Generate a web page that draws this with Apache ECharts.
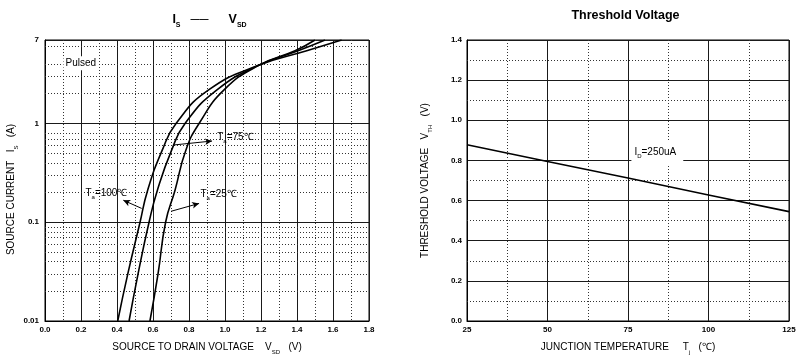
<!DOCTYPE html>
<html>
<head>
<meta charset="utf-8">
<script src="https://cdn.jsdelivr.net/npm/echarts@6/dist/echarts.min.js"></script>
<style>
html,body{margin:0;padding:0;background:#fff;}
#c{width:799px;height:363px;}
</style>
</head>
<body>
<div id="c"></div>
<script>
// ---- Left chart data: Is vs Vsd ----
const isLevels = [0.01, 0.03, 0.1, 0.21, 0.54, 1, 2.2, 3.9, 5.45, 7];
const vsd25  = [0.583, 0.628, 0.670, 0.722, 0.783, 0.856, 0.996, 1.19, 1.389, 1.500];
const vsd75  = [0.467, 0.517, 0.578, 0.624, 0.704, 0.778, 0.957, 1.19, 1.406, 1.556];
const vsd100 = [0.404, 0.460, 0.528, 0.570, 0.652, 0.728, 0.911, 1.19, 1.454, 1.648];
const vsdTicks = [0, 1.8];
const isMinorLines = [0.02,0.03,0.04,0.05,0.06,0.07,0.08,0.09,0.2,0.3,0.4,0.5,0.6,0.7,0.8,2,3,4,6];

// ---- Right chart data: Vth vs Tj ----
const tj = [25, 50, 75, 100, 125];
const vth = [0.878, 0.795, 0.712, 0.628, 0.545];
const vthMinorLines = [0.1, 0.3, 0.5, 0.7, 1.1, 1.3];

const FONT = "'Liberation Sans', Arial, sans-serif";
const chart = echarts.init(document.getElementById('c'), null, {renderer:'canvas'});

const solidSplit = {show:true, lineStyle:{color:'#1a1a1a', width:1, type:'solid'}};
const dotted = {color:'#333', width:1, type:[1,2]};
const labelStyle = {color:'#000', fontSize:8, fontWeight:'bold', fontFamily:FONT};
const subRich = {
  m:{fontSize:10, fontFamily:FONT, color:'#000', lineHeight:16, verticalAlign:'middle'},
  s:{fontSize:6, fontFamily:FONT, color:'#000', lineHeight:16, verticalAlign:'bottom'}
};
const annRich = {
  t:{fontSize:10, fontFamily:FONT, color:'#000', lineHeight:14, verticalAlign:'middle'},
  s:{fontSize:6, fontFamily:FONT, color:'#000', lineHeight:14, verticalAlign:'bottom'}
};

function pairs(xs, ys){ return xs.map((x,i)=>[x, ys[i]]); }
function curve(v){
  return {type:'line', xAxisIndex:0, yAxisIndex:0, data:pairs(v, isLevels), smooth:0.5,
    symbol:'none', silent:true, lineStyle:{color:'#000', width:1.6}, z:3};
}
function ann(coord, text){
  return {coord:coord, label:{formatter:text}};
}

const option = {
  animation:false,
  backgroundColor:'#fff',
  textStyle:{fontFamily:FONT},
  graphic:[
    {type:'text', x:209.5, y:20, style:{text:'{b|I}{s|S}{d|    ——        }{b|V}{s|SD}', align:'center', verticalAlign:'middle',
      rich:{b:{fontSize:12.5, fontWeight:'bold', fontFamily:FONT, fill:'#000', lineHeight:18, verticalAlign:'middle'},
            d:{fontSize:9, fontWeight:'bold', fontFamily:FONT, fill:'#000', lineHeight:18, verticalAlign:'middle'},
            s:{fontSize:7, fontWeight:'bold', fontFamily:FONT, fill:'#000', lineHeight:18, verticalAlign:'bottom'}}}},
    {type:'text', x:625.5, y:16, style:{text:'Threshold Voltage', align:'center', verticalAlign:'middle',
      fontSize:12.5, fontWeight:'bold', fontFamily:FONT, fill:'#000'}}
  ],
  grid:[
    {left:45, top:40, width:324, height:281, show:true, borderColor:'#000', borderWidth:1, outerBoundsMode:'none', containLabel:false},
    {left:467, top:40, width:322, height:281, show:true, borderColor:'#000', borderWidth:1, outerBoundsMode:'none', containLabel:false}
  ],
  xAxis:[
    {gridIndex:0, type:'value', min:vsdTicks[0], max:vsdTicks[1], interval:0.2,
     axisLine:{show:true, lineStyle:{color:'#000'}}, axisTick:{show:false},
     axisLabel:Object.assign({margin:5, formatter:v=>v.toFixed(1)}, labelStyle),
     splitLine:solidSplit,
     minorTick:{show:false, splitNumber:2}, minorSplitLine:{show:true, lineStyle:dotted},
     name:'SOURCE TO DRAIN VOLTAGE    {m|V}{s|SD}   (V)', nameLocation:'middle', nameGap:18,
     nameTextStyle:{fontSize:10, color:'#000', fontFamily:FONT, lineHeight:16, rich:subRich}},
    {gridIndex:1, type:'value', min:tj[0], max:tj[tj.length-1], interval:25,
     axisLine:{show:true, lineStyle:{color:'#000'}}, axisTick:{show:false},
     axisLabel:Object.assign({margin:5}, labelStyle),
     splitLine:solidSplit,
     minorTick:{show:false, splitNumber:2}, minorSplitLine:{show:true, lineStyle:dotted},
     name:'JUNCTION TEMPERATURE     {m|T}{s|j}   (℃)', nameLocation:'middle', nameGap:18,
     nameTextStyle:{fontSize:10, color:'#000', fontFamily:FONT, lineHeight:16, rich:subRich}}
  ],
  yAxis:[
    {gridIndex:0, type:'log', logBase:10, min:0.01, max:7,
     axisLine:{show:true, lineStyle:{color:'#000'}}, axisTick:{show:false},
     axisLabel:Object.assign({margin:6, formatter:v=>String(+(+v).toPrecision(3))}, labelStyle),
     splitLine:solidSplit,
     name:'SOURCE CURRENT   {m|I}{s|S}   (A)', nameLocation:'middle', nameGap:24,
     nameTextStyle:{fontSize:10, color:'#000', fontFamily:FONT, lineHeight:16, rich:subRich, padding:[0,18,0,0]}},
    {gridIndex:1, type:'value', min:0, max:1.4, interval:0.2,
     axisLine:{show:true, lineStyle:{color:'#000'}}, axisTick:{show:false},
     axisLabel:Object.assign({margin:5, formatter:v=>v.toFixed(1)}, labelStyle),
     splitLine:solidSplit,
     name:'THRESHOLD VOLTAGE   {m|V}{s|TH}   (V)', nameLocation:'middle', nameGap:34,
     nameTextStyle:{fontSize:10, color:'#000', fontFamily:FONT, lineHeight:16, rich:subRich}}
  ],
  series:[
    // minor grid (left)
    {type:'line', xAxisIndex:0, yAxisIndex:0, data:[], silent:true, z:1,
     markLine:{silent:true, symbol:'none', animation:false, label:{show:false}, lineStyle:dotted, z:1,
       data:isMinorLines.map(v=>({yAxis:v}))}},
    curve(vsd25), curve(vsd75), curve(vsd100),
    // annotations (left)
    {type:'line', xAxisIndex:0, yAxisIndex:0, data:[], silent:true, z:10,
     markLine:{silent:true, symbol:['none','arrow'], symbolSize:[5,7], animation:false, label:{show:false}, z:10,
       lineStyle:{color:'#000', width:1, type:'solid'},
       data:[
         [{coord:[0.713,0.605]},{coord:[0.928,0.664]}],
         [{coord:[0.537,0.138]},{coord:[0.435,0.167]}],
         [{coord:[0.700,0.129]},{coord:[0.856,0.155]}]
       ]},
     markPoint:{silent:true, symbol:'circle', symbolSize:1, itemStyle:{color:'rgba(0,0,0,0)'}, z:12, animation:false,
       label:{show:true, position:'right', distance:0, color:'#000', fontSize:10, fontFamily:FONT, rich:annRich},
       data:[
         {coord:[0.100,4.07], label:{formatter:'Pulsed', backgroundColor:'#fff', padding:[2,2,2,2]}},
         ann([0.954,0.72], '{t|T}{s|a}{t|=75℃}'),
         ann([0.222,0.197], '{t|T}{s|a}{t|=100℃}'),
         ann([0.861,0.19], '{t|T}{s|a}{t|=25℃}')
       ]}},
    // minor grid (right)
    {type:'line', xAxisIndex:1, yAxisIndex:1, data:[], silent:true, z:1,
     markLine:{silent:true, symbol:'none', animation:false, label:{show:false}, lineStyle:dotted, z:1,
       data:vthMinorLines.map(v=>({yAxis:v}))}},
    {type:'line', xAxisIndex:1, yAxisIndex:1, data:pairs(tj, vth), symbol:'none', silent:true,
     lineStyle:{color:'#000', width:1.6}, z:3,
     markPoint:{silent:true, symbol:'circle', symbolSize:1, itemStyle:{color:'rgba(0,0,0,0)'}, z:12, animation:false,
       label:{show:true, position:'right', distance:0, backgroundColor:'#fff', padding:[4,7,6,3], rich:annRich},
       data:[{coord:[75.9,0.836], label:{formatter:'{t|I}{s|D}{t|=250uA}'}}]}}
  ]
};
chart.setOption(option);
</script>
</body>
</html>
